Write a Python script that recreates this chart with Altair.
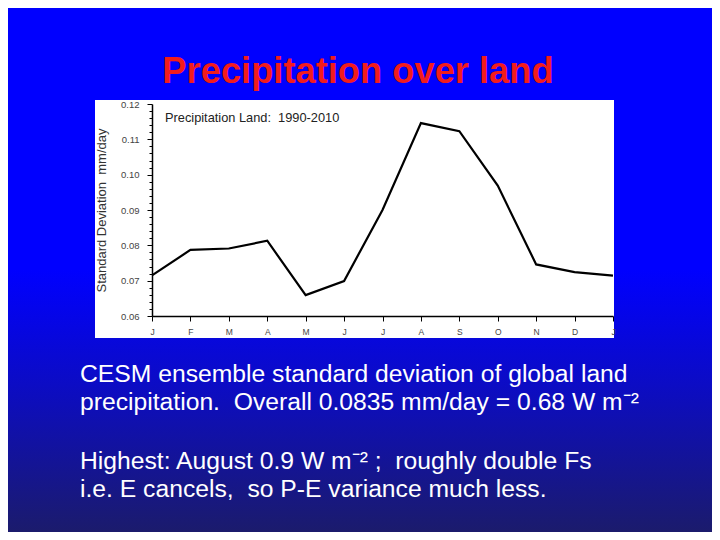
import json
import altair as alt
import pandas as pd

# ---- data ----
months = ["J", "F", "M", "A", "M", "J", "J", "A", "S", "O", "N", "D", "J"]
sd_values = [0.0715, 0.0787, 0.0791, 0.0813, 0.0659, 0.0699, 0.0900,
             0.1146, 0.1123, 0.0969, 0.0746, 0.0724, 0.0714]
y_major = [0.06, 0.07, 0.08, 0.09, 0.10, 0.11, 0.12]
NB = "\u00a0"  # keeps the doubled spaces of the original visible
slide_title = "Precipitation over land"
inner_title = "Precipitation Land:" + NB + " 1990-2010"
y_title = "Standard Deviation" + NB + " mm/day"
body_lines = [
    "CESM ensemble standard deviation of global land",
    "precipitation." + NB + " Overall 0.0835 mm/day = 0.68 W m\u207b\u00b2",
    "Highest: August 0.9 W m\u207b\u00b2 ;" + NB + " roughly double Fs",
    "i.e. E cancels," + NB + " so P-E variance much less.",
]

df = pd.DataFrame({"idx": list(range(len(months))), "month": months, "sd": sd_values})
one = pd.DataFrame({"k": [0]})

W, H = 461, 212
PAD = {"left": 144, "top": 96, "right": 99, "bottom": 216}
SLIDE_FONT = "Comic Sans MS, Liberation Sans, Arial, sans-serif"
PLOT_FONT = "Liberation Sans, Arial, Helvetica, sans-serif"

# minor ticks every 0.002 between the major ones
y_ticks = [round(y_major[0] + 0.002 * i, 3) for i in range(31)]

grad = alt.LinearGradient(
    gradient="linear",
    stops=[
        alt.GradientStop(color="#0000ff", offset=0),
        alt.GradientStop(color="#0000ff", offset=0.5),
        alt.GradientStop(color="#0c0cc4", offset=0.72),
        alt.GradientStop(color="#1b1b6c", offset=1),
    ],
    x1=0, x2=0, y1=0, y2=1,
)

bg = alt.Chart(one).mark_rect(fill=grad).encode(
    x=alt.value(-PAD["left"]), x2=alt.value(W + PAD["right"]),
    y=alt.value(-PAD["top"]), y2=alt.value(H + PAD["bottom"]),
)

box = alt.Chart(one).mark_rect(fill="white").encode(
    x=alt.value(-57), x2=alt.value(462), y=alt.value(-4), y2=alt.value(234)
)

title = alt.Chart(one).mark_text(
    text=slide_title, font=SLIDE_FONT, fontSize=36.3, fontWeight="bold",
    color="#f21c1c", align="center", baseline="alphabetic",
).encode(x=alt.value(206), y=alt.value(-21))

body_y = [278, 306, 365, 393]
texts = [
    alt.Chart(one).mark_text(
        text=line, font=SLIDE_FONT, fontSize=24.7, color="white",
        align="left", baseline="alphabetic",
    ).encode(x=alt.value(-72), y=alt.value(yy))
    for line, yy in zip(body_lines, body_y)
]

inner = alt.Chart(one).mark_text(
    text=inner_title, font=PLOT_FONT, fontSize=12.8, color="#222222",
    align="left", baseline="alphabetic",
).encode(x=alt.value(13), y=alt.value(18))

major_test = "abs(datum.value*100 - round(datum.value*100)) < 0.001"

line = alt.Chart(df).mark_line(color="black", strokeWidth=2.2).encode(
    x=alt.X(
        "idx:Q",
        scale=alt.Scale(domain=[0, len(months) - 1], nice=False, zero=False),
        axis=alt.Axis(
            values=list(range(len(months))),
            labelExpr=json.dumps(months) + "[datum.value]",
            title=None, grid=False, zindex=1,
            domainColor="black", domainWidth=1.5,
            tickColor="black", tickSize=5, tickWidth=1,
            labelFont=PLOT_FONT, labelFontSize=8.5, labelColor="#444444",
            labelPadding=6, labelOverlap=False, labelFlush=False,
        ),
    ),
    y=alt.Y(
        "sd:Q",
        scale=alt.Scale(domain=[y_major[0], y_major[-1]], nice=False, zero=False),
        axis=alt.Axis(
            values=y_ticks,
            labelExpr=major_test + " ? format(datum.value, '.2f') : ''",
            grid=False, zindex=1,
            domainColor="black", domainWidth=1.5,
            tickColor="black", tickWidth=1,
            tickSize={"condition": {"test": major_test, "value": 5}, "value": 3},
            labelFont=PLOT_FONT, labelFontSize=9.5, labelColor="#444444",
            labelPadding=8, labelOverlap=False, labelFlush=False,
            title=y_title, titleX=-51, titleY=106, titleAngle=270,
            titleAlign="center", titleBaseline="middle",
            titleFont=PLOT_FONT, titleFontSize=13, titleFontWeight="normal",
            titleColor="#333333",
        ),
    ),
)

chart = alt.layer(bg, box, title, *texts, inner, line).properties(
    width=W, height=H, padding=PAD,
    autosize=alt.AutoSizeParams(type="none"),
).configure(background="#0000ff").configure_view(stroke="#9a9a9a", strokeWidth=1)

chart.save("out.html", embed_options={"renderer": "svg", "actions": False})
